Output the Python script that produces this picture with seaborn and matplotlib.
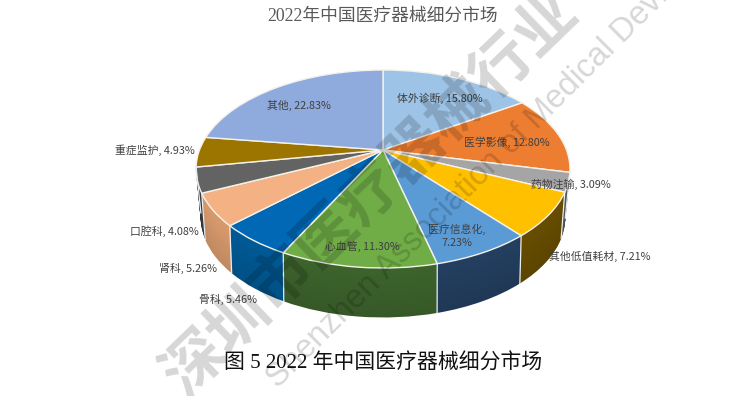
import numpy as np
import seaborn as sns
import matplotlib.pyplot as plt
from matplotlib.colors import to_rgb
from matplotlib.path import Path
from matplotlib.transforms import Transform

# chart data, clockwise from 12 o'clock
segments = ["体外诊断", "医学影像", "药物注输", "其他低值耗材", "医疗信息化", "心血管",
            "骨科", "肾科", "口腔科", "重症监护", "其他"]
shares = [15.80, 12.80, 3.09, 7.21, 7.23, 11.30, 5.46, 5.26, 4.08, 4.93, 22.83]
top_hex = ["#9DC3E6", "#ED7D31", "#A5A5A5", "#FFC000", "#5B9BD5", "#70AD47",
           "#0068B5", "#F4B183", "#636363", "#9C7400", "#8FAADC"]
side_hex = ["#5E7F9E", "#9A4F1E", "#555555", "#634A00", "#223C5C", "#3A5F2A",
            "#00568F", "#CF9468", "#3A3A3A", "#5E4700", "#55688C"]

chart_title = "2022年中国医疗器械细分市场"
caption = "图 5 2022 年中国医疗器械细分市场"
watermark_cn = "深圳市医疗器械行业"
watermark_en = "Shenzhen Association of Medical Device"

sns.set_theme(style="white")
plt.rcParams["font.family"] = ["Noto Sans CJK SC", "DejaVu Sans"]
serif = ["Liberation Serif", "Noto Sans CJK SC"]


class TiltedDisc(Transform):
    # perspective view of the unit disc, output in image pixels
    input_dims = 2
    output_dims = 2

    def __init__(self, cx, cy, rx, ry, k):
        super().__init__()
        self.cx, self.cy, self.rx, self.ry, self.k = cx, cy, rx, ry, k

    def transform_non_affine(self, values):
        x, y = np.asarray(values).T
        w = 1 + self.k * y
        return np.column_stack([self.cx + self.rx * x / w, self.cy - self.ry * y / w])

    def transform_path_non_affine(self, path):
        return Path(self.transform_non_affine(path.vertices), path.codes)


fig = plt.figure(figsize=(7.56, 3.96), dpi=100)
ax = fig.add_axes([0, 0, 1, 1])


def draw_pie(colors, disc, edge=None, lw=0):
    wedges, _ = ax.pie(shares, colors=colors, startangle=90, counterclock=False,
                       wedgeprops=dict(edgecolor=edge if edge else "none", linewidth=lw))
    for w in wedges:
        w.set_transform(disc + ax.transData)
        w.set_clip_on(False)


cx, cy, rx, ry, k = 383, 150, 183.5, 95.35, 0.192
depth, shrink, k_low = 46, 0.03, 0.215


def layer_disc(t):
    return TiltedDisc(cx, cy + depth * t, rx * (1 - shrink * t), ry, k + (k_low - k) * t)


# side wall: stack of darker discs from the bottom up
for t in np.linspace(1, 0, 47):
    shade = [tuple(np.clip(np.array(to_rgb(c)) * (1.05 - 0.12 * t), 0, 1)) for c in side_hex]
    draw_pie(shade, layer_disc(t))

# white seams on the wall where the slices meet
for b in np.cumsum(shares) / sum(shares):
    a = np.pi / 2 - 2 * np.pi * b
    p = np.array([[np.cos(a), np.sin(a)]])
    if p[0, 1] < -0.15:
        p1 = layer_disc(0).transform_non_affine(p)[0]
        p2 = layer_disc(1).transform_non_affine(p)[0]
        ax.plot([p1[0], p2[0]], [p1[1], p2[1]], color="#E8EEF2", lw=0.9)

draw_pie(sns.color_palette(top_hex), layer_disc(0), edge="#F4F2EA", lw=1.0)

ax.set_xlim(0, 756)
ax.set_ylim(396, 0)
ax.set_aspect("auto")
ax.axis("off")

# slice labels
label_pos = [(440, 98), (507, 142), (571, 184), (600, 256), (457, 236), (362, 246),
             (228, 299), (188, 268), (164, 231), (155, 150), (299, 105)]
label_wrap = {"医疗信息化": "\n"}
for name, val, (lx, ly) in zip(segments, shares, label_pos):
    sep = label_wrap.get(name, " ")
    ax.text(lx, ly, f"{name},{sep}{val:.2f}%", fontsize=7.8, color="#404040",
            ha="center", va="center", linespacing=1.35)

ax.text(383, 16, chart_title, fontsize=12.8, color="#595959", ha="center", va="center", family=serif)
ax.text(383, 364, caption, fontsize=15, color="#111111", ha="center", va="center", family=serif)

# watermark
ax.text(371, 194, watermark_cn, fontsize=44, fontweight="bold", color="#000000", alpha=0.16,
        rotation=44, rotation_mode="anchor", ha="center", va="center", zorder=10, clip_on=True)
ax.text(480, 175, watermark_en, fontsize=23.5, color="#000000", alpha=0.16, family="Liberation Sans",
        rotation=45, rotation_mode="anchor", ha="center", va="center", zorder=10, clip_on=True)

fig.savefig("out.png", dpi=100, facecolor="white")
